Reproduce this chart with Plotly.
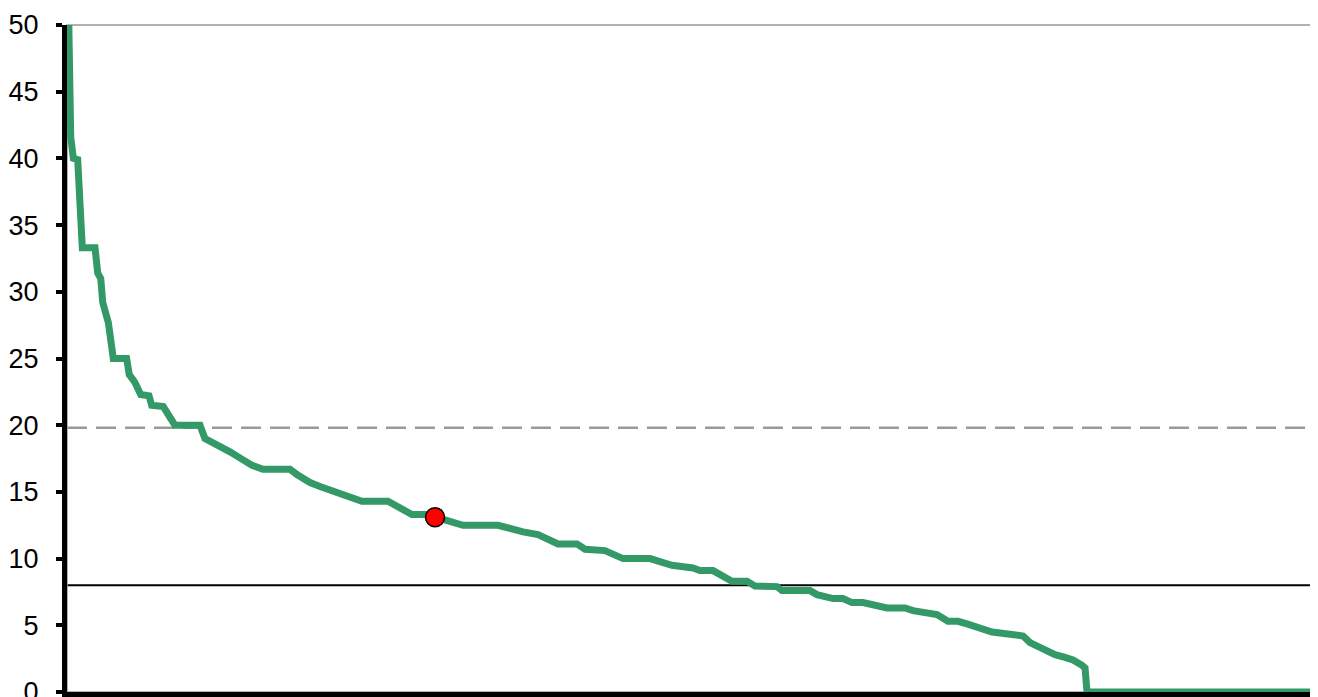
import plotly.graph_objects as go

# Percentile rank (0-100) and value of the sorted curve
rank_pct = [0, 0.30, 0.51, 0.86, 1.23, 2.25, 2.47, 2.71, 2.87, 3.19, 3.32, 3.72, 4.79, 5.00,
            5.46, 5.92, 6.59, 6.80, 7.73, 8.67, 10.68, 11.08, 11.73, 13.09, 14.14, 14.86,
            15.74, 17.91, 18.47, 19.52, 20.32, 21.69, 22.73, 23.69, 25.78, 26.51, 27.31,
            27.71, 28.92, 30.52, 31.81, 34.62, 35.58, 36.63, 37.83, 38.55, 39.44, 40.96,
            41.61, 43.21, 43.86, 44.66, 46.83, 47.87, 48.59, 50.28, 50.84, 51.89, 52.85,
            53.41, 54.62, 55.26, 57.03, 57.43, 59.68, 60.24, 61.53, 62.33, 63.05, 63.94,
            65.86, 67.31, 67.95, 69.32, 69.88, 70.76, 71.57, 72.29, 73.17, 73.57, 74.30,
            75.10, 76.14, 76.79, 77.35, 78.15, 78.71, 79.36, 80.16, 80.80, 81.53, 81.77,
            81.93, 100]
values = [58, 41.6, 40.0, 39.9, 33.3, 33.3, 31.4, 31.0, 29.2, 27.7, 27.7, 25.0, 25.0, 23.8,
          23.2, 22.3, 22.2, 21.5, 21.4, 20.0, 20.0, 19.0, 18.7, 18.0, 17.4, 17.0,
          16.7, 16.7, 16.3, 15.7, 15.4, 15.0, 14.6, 14.3, 14.3, 13.9, 13.6,
          13.3, 13.3, 12.8, 12.5, 12.5, 12.2, 12.0, 11.8, 11.5, 11.1, 11.1,
          10.7, 10.6, 10.3, 10.0, 10.0, 9.7, 9.5, 9.3, 9.1, 9.1, 8.6,
          8.3, 8.3, 7.95, 7.9, 7.6, 7.6, 7.3, 7.0, 7.0, 6.7, 6.7,
          6.3, 6.3, 6.1, 5.9, 5.8, 5.3, 5.3, 5.1, 4.8, 4.8, 4.5,
          4.4, 4.3, 4.2, 3.7, 3.3, 3.1, 2.8, 2.6, 2.4, 2.0, 1.8,
          0, 0]

highlight_rank = [29.56]
highlight_value = [13.1]

dashed_ref = 19.8
solid_ref = 8.0

y_ticks = [0, 5, 10, 15, 20, 25, 30, 35, 40, 45, 50]

fig = go.Figure()
fig.add_trace(go.Scatter(x=rank_pct, y=values, mode="lines",
                         line=dict(color="#339966", width=7), showlegend=False,
                         hoverinfo="skip"))
fig.add_trace(go.Scatter(x=highlight_rank, y=highlight_value, mode="markers",
                         marker=dict(color="#ff0000", size=19,
                                     line=dict(color="#000000", width=1.5)),
                         showlegend=False))

fig.add_hline(y=dashed_ref, line=dict(color="#999999", width=2.5, dash="20px,9px"),
              layer="below")
fig.add_hline(y=solid_ref, line=dict(color="#000000", width=2), layer="below")

# gray frame (top/right)
fig.add_shape(type="rect", xref="paper", yref="paper", x0=0, x1=1, y0=0, y1=1,
              line=dict(color="#999999", width=1.5), layer="below")

fig.update_layout(
    width=1318, height=697,
    margin=dict(l=59, r=14, t=17, b=13, autoexpand=False),
    paper_bgcolor="white", plot_bgcolor="white",
    font=dict(family="Liberation Sans, Arial, sans-serif", color="#000000", size=27),
)
fig.update_xaxes(range=[0, 100], showgrid=False, zeroline=False, showticklabels=False,
                 ticks="", showline=True, linecolor="#000000", linewidth=5,
                 automargin=False)
fig.update_yaxes(range=[0, 50], tickvals=y_ticks, showgrid=False, zeroline=False,
                 ticks="outside", ticklen=6, tickwidth=4, tickcolor="#000000",
                 showline=True, linecolor="#000000", linewidth=5,
                 ticklabelstandoff=12, automargin=False, ticklabeloverflow="allow")

fig.write_html("out.html")
